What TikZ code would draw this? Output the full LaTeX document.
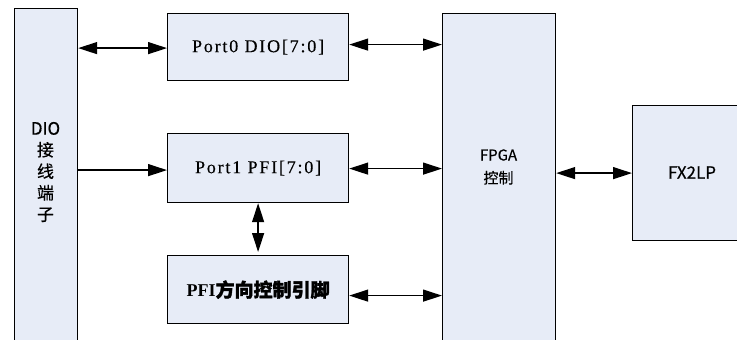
\documentclass[tikz,border=0pt]{standalone}
\usepackage{fontspec}
\setmainfont{Liberation Serif}
\newfontfamily\cjk[FakeBold=0.4]{Noto Sans CJK SC}
\newfontfamily\cjkbold[FakeBold=1.5]{Noto Sans CJK SC}
\newfontfamily\portfont[LetterSpace=10,FakeBold=0.3]{Liberation Serif}
\usetikzlibrary{arrows.meta}
\definecolor{boxfill}{HTML}{E7ECF7}
\begin{document}
\begin{tikzpicture}[x=1pt,y=-1pt,
  blk/.style={draw=black, line width=1.2pt, fill=boxfill, inner sep=0pt, anchor=north west},
  both/.style={line width=1.3pt, {Triangle[length=19pt,width=12pt]}-{Triangle[length=19pt,width=12pt]}},
  one/.style={line width=1.3pt, -{Triangle[length=19pt,width=12pt]}},
  porttxt/.style={font=\portfont\fontsize{18pt}{20pt}\selectfont},
  sanstxt/.style={font=\cjk\fontsize{15pt}{23pt}\selectfont, align=center}]
\useasboundingbox (0,0) rectangle (737,340);
\clip (0,0) rectangle (737,340);
\fill[white] (0,0) rectangle (737,340);
% boxes
\node[blk, minimum width=63pt, minimum height=345pt] (dio) at (14,8) {};
\node[align=center, font=\cjk\fontsize{17pt}{21.5pt}\selectfont] (diot) at (45.5,172) {DIO\\接\\线\\端\\子};
\node[blk, minimum width=181pt, minimum height=67pt] (port0) at (167,13) {};
\node[porttxt] (port0t) at (port0.center) {Port0 DIO[7:0]};
\node[blk, minimum width=181pt, minimum height=69pt] (port1) at (167,133) {};
\node[porttxt] (port1t) at (port1.center) {Port1 PFI[7:0]};
\node[blk, minimum width=181pt, minimum height=68pt] (pfi) at (167,255) {};
\node (pfit) at (pfi.center) {\fontsize{18pt}{20pt}\selectfont\bfseries PFI{\cjkbold\fontsize{19pt}{20pt}\selectfont 方向控制引脚}};
\node[blk, minimum width=113pt, minimum height=345pt] (fpga) at (442,13) {};
\node[sanstxt] (fpgat) at (498.5,167) {FPGA\\控制};
\node[blk, minimum width=120pt, minimum height=135pt] (fx2) at (632,105) {};
\node[font=\cjk\fontsize{17pt}{20pt}\selectfont] (fx2t) at (692,172.5) {FX2LP};
% connectors
\draw[both] ([yshift=-1pt]port0.west -| dio.east) -- ([yshift=-1pt]port0.west);
\draw[both] ([yshift=2.5pt]port0.east) -- ([yshift=2.5pt]port0.east -| fpga.west);
\draw[one] ([yshift=-2pt]port1.west -| dio.east) -- ([yshift=-2pt]port1.west);
\draw[both] ([yshift=-0.5pt]port1.east) -- ([yshift=-0.5pt]port1.east -| fpga.west);
\draw[both, shorten >=3pt] (port1.south) -- (pfi.north);
\draw[both] ([yshift=-6pt]pfi.east) -- ([yshift=-6pt]pfi.east -| fpga.west);
\draw[both] (fx2.west -| fpga.east) -- (fx2.west);
\end{tikzpicture}
\end{document}
